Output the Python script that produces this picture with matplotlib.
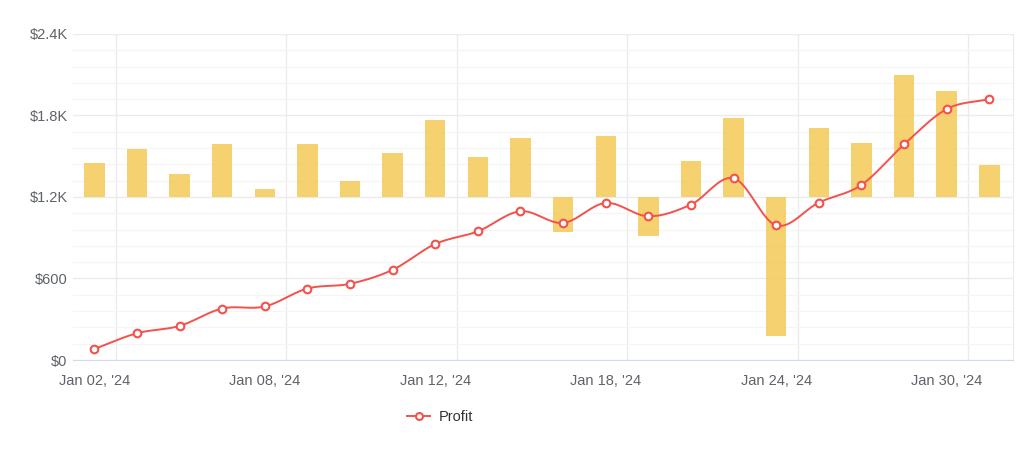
import numpy as np
import matplotlib
matplotlib.use("Agg")
import matplotlib.pyplot as plt
from matplotlib.ticker import FixedLocator, FuncFormatter
from matplotlib.lines import Line2D

# Trading days shown (Jan 2024, weekdays)
dates = ["Jan 02, '24", "Jan 03, '24", "Jan 04, '24", "Jan 05, '24",
         "Jan 08, '24", "Jan 09, '24", "Jan 10, '24", "Jan 11, '24",
         "Jan 12, '24", "Jan 15, '24", "Jan 16, '24", "Jan 17, '24",
         "Jan 18, '24", "Jan 19, '24", "Jan 22, '24", "Jan 23, '24",
         "Jan 24, '24", "Jan 25, '24", "Jan 26, '24", "Jan 29, '24",
         "Jan 30, '24", "Jan 31, '24"]

# daily bars, drawn from the $1.2K baseline
daily = [248, 351, 172, 388, 59, 388, 116, 324, 567, 294, 434, -255,
         451, -290, 265, 584, -1026, 510, 395, 898, 783, 235]
bar_base = 1200

# cumulative profit line
profit = [81, 197, 251, 379, 394, 526, 561, 664, 854, 947, 1095, 1009,
          1156, 1058, 1144, 1338, 991, 1159, 1289, 1587, 1847, 1921]

LINE_RED = "#f4514c"
BAR_YELLOW = "#f6cc5f"
GRID = "#ebebeb"
MINOR_GRID = "#f5f5f5"
TEXT = "#5f6368"


def catmull_rom(x, y, steps=20):
    """Smooth the line through the points with a Catmull-Rom spline."""
    x = np.asarray(x, float)
    y = np.asarray(y, float)
    px = np.concatenate([[2 * x[0] - x[1]], x, [2 * x[-1] - x[-2]]])
    py = np.concatenate([[2 * y[0] - y[1]], y, [2 * y[-1] - y[-2]]])
    out_x, out_y = [], []
    t = np.linspace(0, 1, steps, endpoint=False)
    for i in range(1, len(px) - 2):
        for arr, out in ((px, out_x), (py, out_y)):
            p0, p1, p2, p3 = arr[i - 1], arr[i], arr[i + 1], arr[i + 2]
            out.extend(0.5 * ((2 * p1) + (-p0 + p2) * t
                              + (2 * p0 - 5 * p1 + 4 * p2 - p3) * t ** 2
                              + (-p0 + 3 * p1 - 3 * p2 + p3) * t ** 3))
    out_x.append(x[-1])
    out_y.append(y[-1])
    return np.array(out_x), np.array(out_y)


plt.rcParams["font.family"] = ["Liberation Sans", "DejaVu Sans"]

fig = plt.figure(figsize=(10.24, 4.65), dpi=100)
ax = fig.add_axes([0.0713, 0.2258, 0.9177, 0.7012])

x = np.arange(len(dates))

# bars from the baseline
ax.bar(x, daily, bottom=bar_base, width=0.48, color=BAR_YELLOW, alpha=0.9,
       zorder=2)

# smooth profit line with hollow markers
sx, sy = catmull_rom(x, profit)
ax.plot(sx, sy, color=LINE_RED, lw=1.4, zorder=3)
ax.plot(x, profit, ls="none", marker="o", ms=5.5, mfc="white",
        mec=LINE_RED, mew=1.5, zorder=4)

ax.set_xlim(-0.5, len(dates) - 0.45)
ax.set_ylim(0, 2400)

# y axis
ax.yaxis.set_major_locator(FixedLocator([0, 600, 1200, 1800, 2400]))
ax.yaxis.set_minor_locator(FixedLocator(np.arange(0, 2401, 120)))
ax.yaxis.set_major_formatter(FuncFormatter(
    lambda v, _: "$0" if v == 0 else (f"${v/1000:.1f}K" if v >= 1000 else f"${v:.0f}")))

# x axis: labels every 4th day, grid lines between bars
label_idx = list(range(0, len(dates), 4))
ax.xaxis.set_major_locator(FixedLocator(label_idx))
ax.set_xticklabels([dates[i] for i in label_idx])
ax.xaxis.set_minor_locator(FixedLocator([i + 0.5 for i in label_idx]))

ax.grid(axis="y", which="major", color=GRID, lw=1.0, zorder=0)
ax.grid(axis="y", which="minor", color=MINOR_GRID, lw=0.9, zorder=0)
ax.grid(axis="x", which="minor", color=GRID, lw=1.0, zorder=0)
ax.grid(axis="x", which="major", visible=False)

ax.tick_params(axis="both", which="both", length=0, labelsize=10.5,
               labelcolor=TEXT)
ax.tick_params(axis="x", pad=10)
ax.tick_params(axis="y", pad=4)

for side in ("top", "left"):
    ax.spines[side].set_visible(False)
ax.spines["right"].set_color(GRID)
ax.spines["bottom"].set_color("#cfdaf0")
ax.set_axisbelow(True)

handle = Line2D([0], [0], color=LINE_RED, lw=1.4, marker="o", ms=5,
                mfc="white", mec=LINE_RED, mew=1.5)
fig.legend([handle], ["Profit"], loc="center", bbox_to_anchor=(0.43, 0.103),
           frameon=False, fontsize=10.5, handlelength=1.6, handletextpad=0.6,
           labelcolor="#333333")

fig.savefig("out.png", dpi=100, facecolor="white")
